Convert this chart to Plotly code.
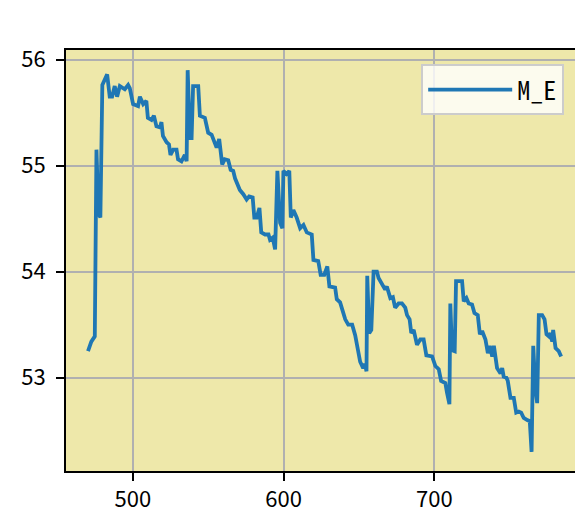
import plotly.graph_objects as go

# Series "M_E"
x_vals = [470.3, 472.5, 474.8, 475.9, 477.2, 478.5, 479.8, 481.4, 483.0, 484.7, 486.3, 488.0, 489.6, 491.4,
          493.2, 494.7, 496.9, 498.0, 500.2, 502.4, 503.5, 504.7, 506.9, 509.0, 510.0, 512.4, 514.0, 515.7,
          518.0, 519.0, 520.0, 522.4, 524.0, 525.0, 526.8, 529.0, 530.0, 532.3, 534.5, 535.7, 536.4, 537.9,
          539.0, 540.0, 543.4, 544.5, 547.8, 550.0, 552.3, 554.5, 555.6, 557.3, 559.3, 561.0, 563.3, 564.9,
          566.6, 567.8, 570.0, 571.0, 573.3, 575.5, 577.2, 579.5, 580.6, 582.2, 584.0, 585.2, 587.7, 590.0,
          591.0, 592.8, 594.4, 595.9, 597.7, 599.2, 599.9, 602.0, 603.8, 604.8, 606.5, 608.7, 611.0, 613.2,
          615.4, 618.7, 619.8, 623.0, 624.6, 627.0, 629.0, 630.4, 634.2, 635.3, 637.5, 639.3, 640.9, 642.9,
          645.5, 647.5, 649.5, 650.8, 652.8, 654.0, 655.0, 655.5, 656.8, 658.2, 659.7, 661.9, 663.0, 665.2,
          667.4, 668.5, 670.8, 672.5, 674.0, 676.3, 678.5, 680.7, 681.9, 683.6, 684.7, 686.3, 688.5, 690.7,
          692.9, 694.7, 698.5, 700.7, 702.9, 704.5, 707.3, 708.4, 710.0, 710.6, 711.7, 713.5, 714.4, 718.4,
          719.5, 721.3, 722.8, 725.0, 726.6, 728.8, 730.2, 731.7, 733.9, 735.5, 736.8, 738.4, 739.5, 741.6,
          743.9, 745.0, 746.0, 747.8, 748.7, 750.5, 752.7, 754.3, 756.0, 757.6, 759.3, 761.6, 763.3, 764.5,
          765.6, 767.0, 768.2, 769.3, 771.5, 773.1, 774.4, 776.0, 777.0, 778.2, 778.8, 780.4, 782.5, 784.1]
y_vals = [53.25, 53.34, 53.39, 55.15, 54.55, 54.51, 55.76, 55.81, 55.86, 55.65, 55.65, 55.75, 55.65, 55.75,
          55.73, 55.72, 55.76, 55.73, 55.58, 55.56, 55.56, 55.65, 55.58, 55.61, 55.45, 55.43, 55.47, 55.37,
          55.36, 55.41, 55.28, 55.22, 55.20, 55.10, 55.15, 55.15, 55.06, 55.04, 55.10, 55.04, 55.90, 55.26,
          55.26, 55.75, 55.75, 55.47, 55.45, 55.31, 55.29, 55.21, 55.17, 55.25, 55.01, 55.06, 55.05, 54.96,
          54.95, 54.88, 54.80, 54.77, 54.73, 54.68, 54.71, 54.70, 54.51, 54.51, 54.60, 54.37, 54.35, 54.35,
          54.30, 54.32, 54.21, 54.95, 54.46, 54.41, 54.95, 54.92, 54.95, 54.51, 54.58, 54.51, 54.41, 54.44,
          54.37, 54.35, 54.11, 54.10, 53.97, 53.97, 54.05, 53.86, 53.85, 53.74, 53.71, 53.61, 53.55, 53.50,
          53.50, 53.40, 53.26, 53.15, 53.09, 53.13, 53.06, 53.96, 53.42, 53.45, 54.00, 54.00, 53.94, 53.88,
          53.83, 53.86, 53.75, 53.76, 53.66, 53.70, 53.70, 53.66, 53.59, 53.55, 53.42, 53.45, 53.31, 53.36,
          53.36, 53.21, 53.20, 53.11, 53.08, 52.97, 52.95, 52.86, 52.75, 53.70, 53.26, 53.25, 53.91, 53.91,
          53.72, 53.75, 53.70, 53.69, 53.61, 53.59, 53.41, 53.44, 53.36, 53.23, 53.30, 53.20, 53.30, 53.09,
          53.04, 53.09, 53.01, 53.00, 52.97, 52.81, 52.81, 52.67, 52.68, 52.67, 52.62, 52.60, 52.59, 52.30,
          53.30, 52.90, 52.76, 53.59, 53.59, 53.55, 53.41, 53.39, 53.42, 53.34, 53.45, 53.28, 53.25, 53.20]

series_name = "M_E"
x_ticks = [500, 600, 700]
y_ticks = [53, 54, 55, 56]

FONT = "Noto Sans CJK SC, Roboto, DejaVu Sans, sans-serif"
MONO = "Noto Sans Mono CJK SC, DejaVu Sans Mono, monospace"

fig = go.Figure()
fig.add_trace(go.Scatter(x=x_vals, y=y_vals, mode="lines", name=series_name,
                         line=dict(color="#1f77b4", width=3.8)))

fig.update_layout(
    width=575, height=511,
    margin=dict(l=58, r=0, t=42, b=48),
    paper_bgcolor="white",
    plot_bgcolor="palegoldenrod",
    font=dict(family=FONT, size=22, color="black"),
    showlegend=True,
    legend=dict(x=0.687, y=0.966, xanchor="left", yanchor="top",
                bgcolor="rgba(255,255,255,0.8)", bordercolor="#cccccc", borderwidth=2,
                itemwidth=84, tracegroupgap=0,
                font=dict(family=MONO, size=26)),
)
fig.update_xaxes(range=[455.7, 798.6], tickvals=x_ticks, showgrid=True, gridcolor="#b0b0b0", gridwidth=2,
                 zeroline=False, showline=True, linecolor="black", linewidth=2, mirror=True,
                 ticks="outside", ticklen=8, tickwidth=2, tickcolor="black")
fig.update_yaxes(range=[52.12, 56.09], tickvals=y_ticks, showgrid=True, gridcolor="#b0b0b0", gridwidth=2,
                 zeroline=False, showline=True, linecolor="black", linewidth=2,
                 ticks="outside", ticklen=8, tickwidth=2, tickcolor="black", ticklabelstandoff=6)

fig.write_html("out.html")
